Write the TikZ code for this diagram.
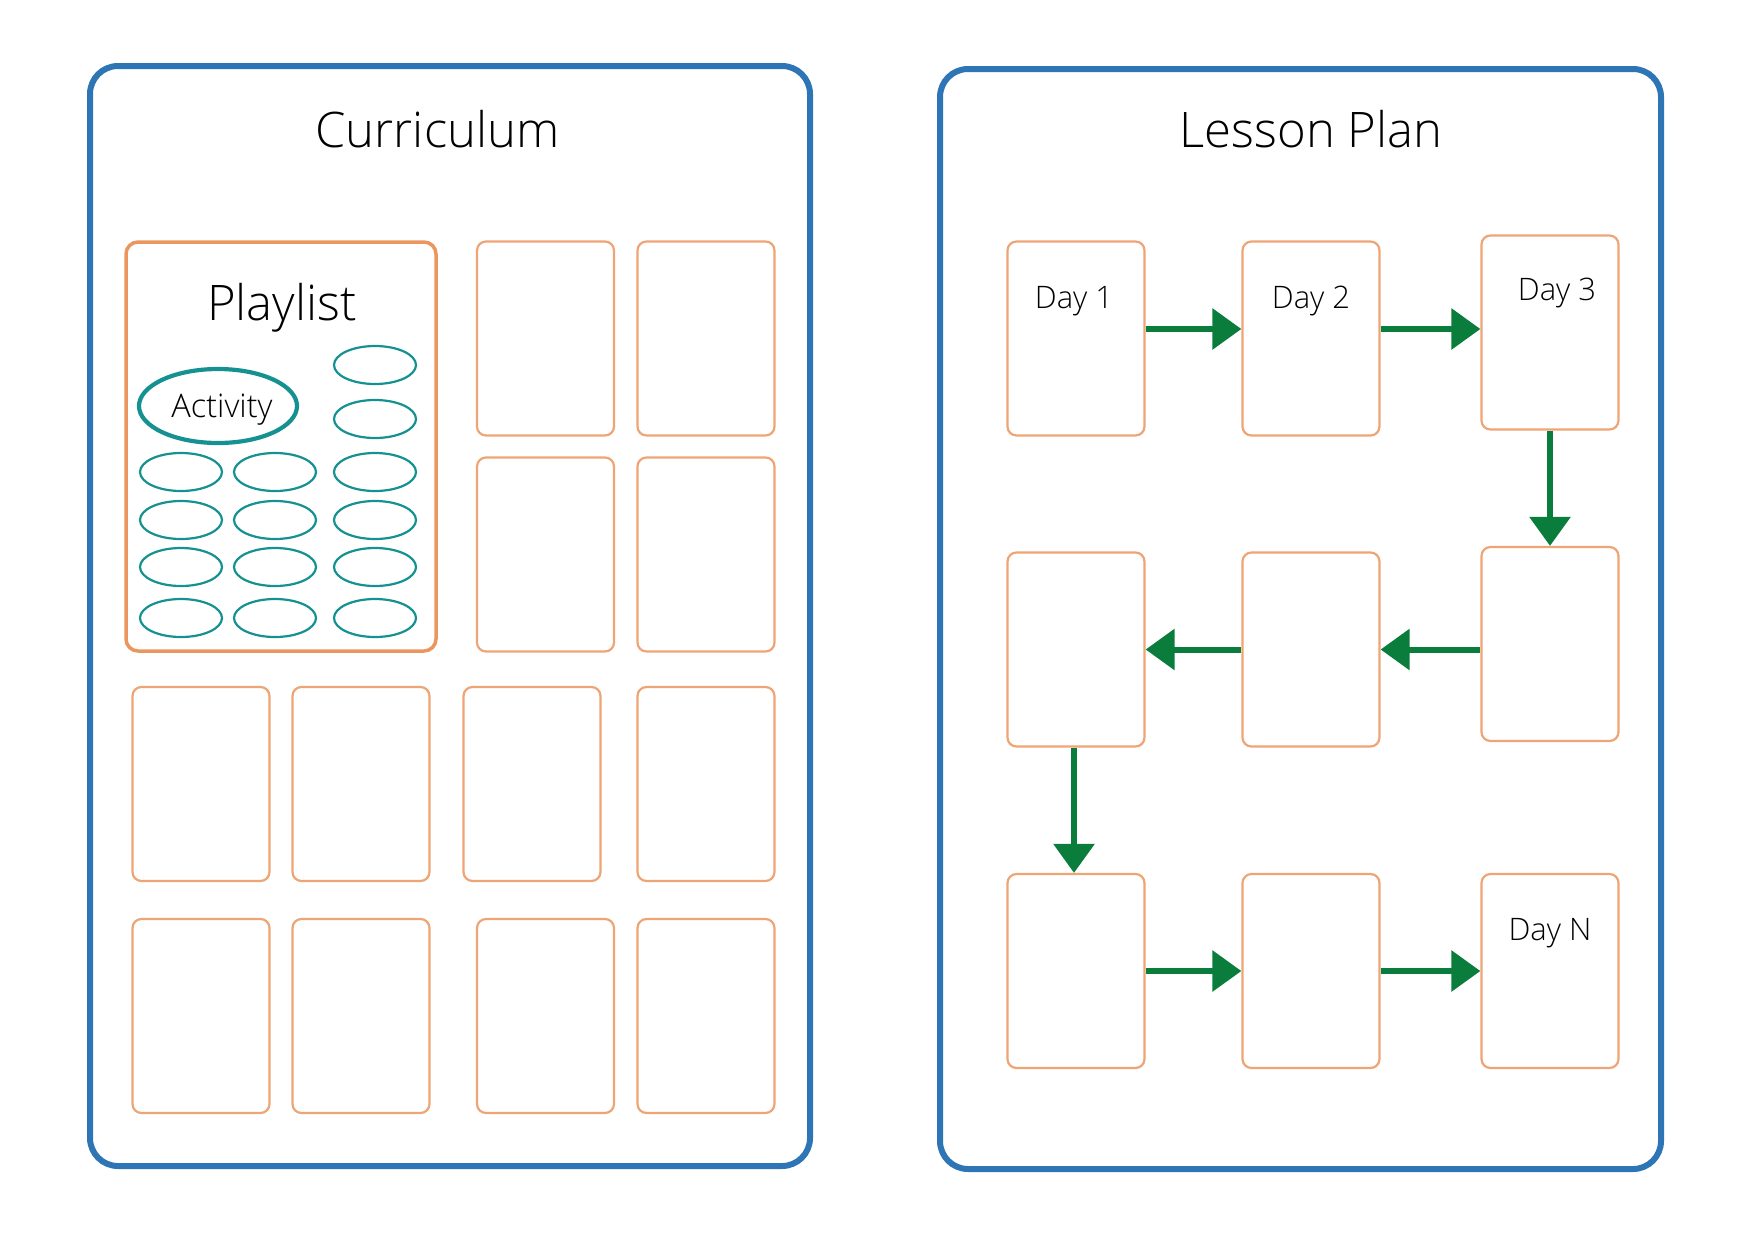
\documentclass[tikz,border=0pt]{standalone}
\usepackage{fontspec}
\setmainfont{Open Sans Light}
\usetikzlibrary{arrows.meta,shapes.geometric}
\definecolor{panelblue}{RGB}{46,117,182}
\definecolor{cardorange}{RGB}{238,164,116}
\definecolor{listorange}{RGB}{236,150,95}
\definecolor{actteal}{RGB}{22,145,145}
\definecolor{flowgreen}{RGB}{10,125,60}
\tikzset{
  panel/.style={draw=panelblue, line width=6pt, rounded corners=28pt, minimum width=720pt, minimum height=1100pt, inner sep=0pt},
  card/.style={draw=cardorange, line width=2.2pt, rounded corners=9pt, minimum width=137pt, minimum height=194pt, inner sep=0pt},
  listbox/.style={draw=listorange, line width=3.5pt, rounded corners=12pt, minimum width=310pt, minimum height=409pt, inner sep=0pt},
  actsmall/.style={draw=actteal, line width=2.2pt, ellipse, minimum width=82pt, minimum height=38pt, inner sep=0pt},
  actbig/.style={draw=actteal, line width=4.2pt, ellipse, minimum width=158pt, minimum height=74pt, inner sep=0pt},
  flow/.style={draw=flowgreen, line width=6pt, -{Triangle[length=29pt,width=40pt]}},
  title/.style={font=\fontsize{49}{52}\selectfont, anchor=base, inner sep=0pt},
  daylabel/.style={font=\fontsize{31}{34}\selectfont, anchor=base, inner sep=0pt},
}
\begin{document}
\begin{tikzpicture}[x=1pt,y=-1pt]
\useasboundingbox (0,0) rectangle (1748,1240);
% panels
\node[panel] (curr) at (450,616) {};
\node[panel, minimum width=721pt] (lesson) at (1300.5,619) {};
\node[title] (currt) at (437.5,147) {Curriculum};
\node[title] (lessont) at (1311,147) {Lesson Plan};
% playlist
\node[listbox] (plist) at (281,446.5) {};
\node[title, font=\fontsize{49}{52}\selectfont] (plistt) at (282,320) {Playlist};
\node[actbig] (act) at (218,406) {};
\node[daylabel, font=\fontsize{32.5}{35}\selectfont] (actt) at (222,417) {Activity};
\node[actsmall] (e31) at (375,365) {};
\node[actsmall] (e32) at (375,419) {};
\foreach \c/\x in {1/181,2/275,3/375}{
  \foreach \r/\y in {3/472,4/520,5/567,6/618}{
    \node[actsmall] (e\c\r) at (\x,\y) {};
  }
}
% curriculum cards
\node[card] (k11) at (545.5,338.5) {};
\node[card] (k12) at (706,338.5) {};
\node[card] (k21) at (545.5,554.5) {};
\node[card] (k22) at (706,554.5) {};
\node[card] (k31) at (201,784) {};
\node[card] (k32) at (361,784) {};
\node[card] (k33) at (532,784) {};
\node[card] (k34) at (706,784) {};
\node[card] (k41) at (201,1016) {};
\node[card] (k42) at (361,1016) {};
\node[card] (k43) at (545.5,1016) {};
\node[card] (k44) at (706,1016) {};
% lesson plan cards
\node[card] (d11) at (1076,338.5) {};
\node[card] (d12) at (1311,338.5) {};
\node[card] (d13) at (1550,332.5) {};
\node[card] (d21) at (1076,649.5) {};
\node[card] (d22) at (1311,649.5) {};
\node[card] (d23) at (1550,644) {};
\node[card] (d31) at (1076,971) {};
\node[card] (d32) at (1311,971) {};
\node[card] (d33) at (1550,971) {};
\node[daylabel] (l1) at (1074,308) {Day 1};
\node[daylabel] (l2) at (1311,308) {Day 2};
\node[daylabel] (l3) at (1557,300) {Day 3};
\node[daylabel] (ln) at (1550,940) {Day N};
% flow arrows
\draw[flow] ([yshift=9.5pt]d11.east) -- ([yshift=9.5pt]d12.west);
\draw[flow] ([yshift=9.5pt]d12.east) -- ([yshift=3.5pt]d13.west);
\draw[flow] (d13.south) -- (d23.north);
\draw[flow] ([yshift=-5.5pt]d23.west) -- (d22.east);
\draw[flow] (d22.west) -- (d21.east);
\draw[flow] ([xshift=-2pt]d21.south) -- ([xshift=-2pt]d31.north);
\draw[flow] (d31.east) -- (d32.west);
\draw[flow] (d32.east) -- (d33.west);
\end{tikzpicture}
\end{document}
